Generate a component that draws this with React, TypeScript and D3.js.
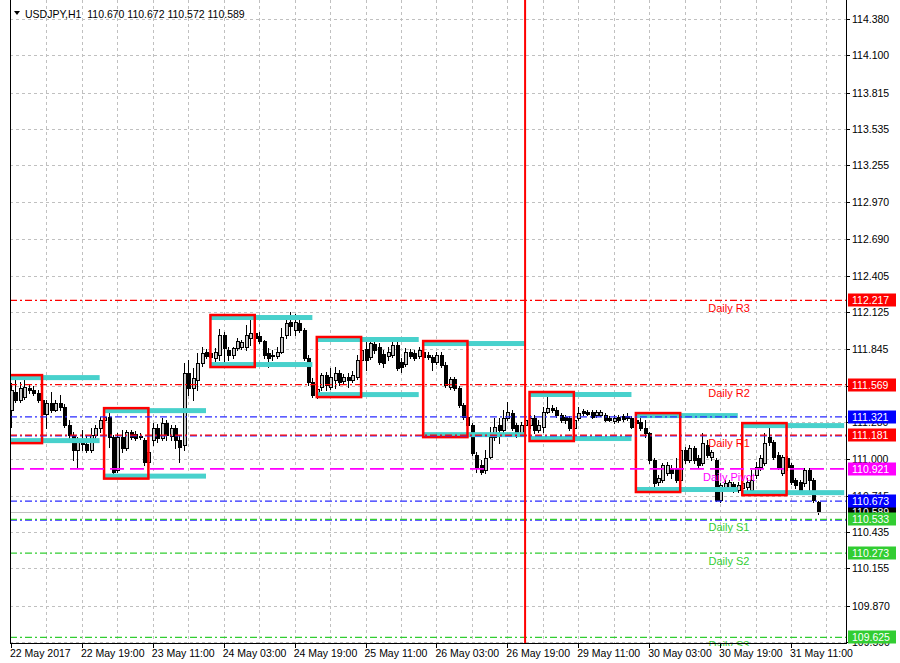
import React from 'react';
import * as d3 from 'd3';

// USDJPY H1, bar 0 = 22 May 2017 03:00
const barOpen = [
  111.373, 111.512, 111.450, 111.473, 111.542, 111.527, 111.504, 111.450, 111.342, 111.427,
  111.373, 111.427, 111.396, 111.258, 111.181, 111.066, 111.142, 111.112, 111.066, 111.181,
  111.235, 111.296, 111.319, 111.165, 110.912, 111.165, 111.081, 111.204, 111.188, 111.173,
  111.142, 110.973, 111.142, 111.235, 111.158, 111.273, 111.173, 111.235, 111.142, 111.104,
  111.658, 111.542, 111.604, 111.735, 111.819, 111.811, 111.773, 111.796, 111.950, 111.835,
  111.796, 111.850, 111.858, 111.858, 111.927, 111.965, 111.942, 111.904, 111.811, 111.796,
  111.788, 111.819, 111.950, 112.050, 111.988, 112.042, 111.988, 111.773, 111.588, 111.488,
  111.550, 111.642, 111.550, 111.604, 111.658, 111.596, 111.627, 111.604, 111.627, 111.758,
  111.842, 111.781, 111.881, 111.858, 111.804, 111.788, 111.796, 111.873, 111.742, 111.727,
  111.819, 111.811, 111.788, 111.819, 111.796, 111.781, 111.742, 111.796, 111.719, 111.550,
  111.612, 111.542, 111.412, 111.319, 111.258, 111.027, 110.950, 110.912, 111.012, 111.165,
  111.258, 111.219, 111.312, 111.350, 111.258, 111.196, 111.258, 111.258, 111.312, 111.219,
  111.242, 111.358, 111.388, 111.373, 111.335, 111.319, 111.312, 111.235, 111.312, 111.365,
  111.358, 111.358, 111.335, 111.335, 111.335, 111.312, 111.288, 111.319, 111.327, 111.327,
  111.312, 111.296, 111.281, 111.235, 111.196, 110.989, 110.819, 110.835, 110.889, 110.927,
  110.927, 110.835, 111.066, 110.989, 111.081, 111.004, 110.966, 111.104, 111.012, 110.989,
  110.681, 110.773, 110.773, 110.804, 110.758, 110.773, 110.781, 110.758, 110.873, 110.935,
  110.966, 111.165, 111.127, 111.027, 110.889, 111.004, 110.950, 110.835, 110.819, 110.812,
  110.912, 110.835, 110.670,
];
const barHigh = [
  111.581, 111.604, 111.588, 111.604, 111.573, 111.558, 111.527, 111.465, 111.450, 111.512,
  111.450, 111.488, 111.419, 111.296, 111.204, 111.165, 111.219, 111.173, 111.235, 111.258,
  111.319, 111.335, 111.350, 111.181, 111.196, 111.219, 111.219, 111.219, 111.212, 111.196,
  111.158, 111.081, 111.273, 111.265, 111.312, 111.296, 111.258, 111.258, 111.181, 111.735,
  111.758, 111.696, 111.811, 111.858, 111.842, 111.835, 111.850, 111.996, 111.973, 111.858,
  111.858, 111.927, 111.911, 112.027, 112.070, 111.988, 111.973, 111.911, 111.850, 111.835,
  111.858, 112.004, 112.081, 112.127, 112.112, 112.073, 112.004, 111.796, 111.619, 111.565,
  111.658, 111.665, 111.696, 111.704, 111.681, 111.650, 111.658, 111.673, 111.796, 111.888,
  111.896, 111.935, 111.911, 111.888, 111.835, 111.858, 111.904, 111.904, 111.773, 111.850,
  111.842, 111.835, 111.858, 111.842, 111.819, 111.796, 111.819, 111.819, 111.742, 111.627,
  111.627, 111.558, 111.427, 111.335, 111.273, 111.050, 110.989, 111.066, 111.242, 111.312,
  111.312, 111.373, 111.435, 111.373, 111.273, 111.281, 111.312, 111.335, 111.335, 111.296,
  111.396, 111.473, 111.412, 111.396, 111.350, 111.335, 111.327, 111.312, 111.396, 111.381,
  111.373, 111.373, 111.373, 111.373, 111.350, 111.327, 111.335, 111.335, 111.342, 111.350,
  111.327, 111.335, 111.312, 111.296, 111.204, 111.004, 110.873, 110.966, 110.973, 110.950,
  111.004, 111.089, 111.089, 111.104, 111.096, 111.027, 111.196, 111.142, 111.066, 111.004,
  110.812, 110.835, 110.835, 110.819, 110.819, 110.835, 110.850, 110.912, 110.973, 111.027,
  111.196, 111.235, 111.142, 111.050, 111.027, 111.019, 110.966, 110.850, 110.835, 110.927,
  110.927, 110.850, 110.672,
];
const barLow = [
  111.242, 111.435, 111.435, 111.458, 111.504, 111.488, 111.435, 111.312, 111.235, 111.358,
  111.365, 111.373, 111.242, 111.142, 110.989, 110.935, 111.066, 111.050, 111.050, 111.142,
  111.204, 111.273, 111.089, 110.858, 110.896, 111.050, 111.066, 111.150, 111.142, 111.150,
  110.950, 110.935, 111.104, 111.127, 111.142, 111.142, 111.142, 111.081, 110.973, 111.066,
  111.488, 111.450, 111.527, 111.712, 111.773, 111.758, 111.750, 111.758, 111.735, 111.758,
  111.773, 111.835, 111.842, 111.835, 111.873, 111.896, 111.888, 111.773, 111.704, 111.758,
  111.773, 111.811, 111.927, 111.950, 111.950, 111.973, 111.758, 111.565, 111.473, 111.465,
  111.527, 111.527, 111.535, 111.542, 111.565, 111.573, 111.550, 111.588, 111.612, 111.742,
  111.681, 111.765, 111.811, 111.727, 111.704, 111.758, 111.781, 111.681, 111.665, 111.712,
  111.773, 111.758, 111.773, 111.758, 111.765, 111.681, 111.727, 111.704, 111.550, 111.535,
  111.527, 111.396, 111.304, 111.242, 111.027, 110.896, 110.881, 110.889, 111.004, 111.142,
  111.119, 111.204, 111.296, 111.219, 111.165, 111.181, 111.235, 111.235, 111.196, 111.204,
  111.204, 111.350, 111.358, 111.319, 111.281, 111.273, 111.219, 111.219, 111.296, 111.335,
  111.335, 111.312, 111.319, 111.327, 111.288, 111.288, 111.273, 111.281, 111.288, 111.296,
  111.235, 111.258, 111.219, 111.165, 110.966, 110.773, 110.796, 110.819, 110.873, 110.850,
  110.819, 110.819, 110.966, 110.973, 110.966, 110.927, 110.950, 111.012, 110.989, 110.673,
  110.666, 110.758, 110.758, 110.742, 110.742, 110.727, 110.758, 110.742, 110.850, 110.912,
  110.950, 111.104, 110.996, 110.920, 110.873, 110.912, 110.804, 110.773, 110.742, 110.789,
  110.758, 110.666, 110.572,
];
const barClose = [
  111.527, 111.450, 111.542, 111.550, 111.527, 111.504, 111.450, 111.342, 111.427, 111.373,
  111.427, 111.396, 111.258, 111.181, 111.066, 111.142, 111.112, 111.066, 111.181, 111.235,
  111.296, 111.319, 111.165, 110.896, 111.165, 111.081, 111.204, 111.165, 111.158, 111.165,
  110.973, 111.050, 111.235, 111.158, 111.273, 111.181, 111.235, 111.142, 111.089, 111.658,
  111.542, 111.619, 111.735, 111.811, 111.788, 111.781, 111.819, 111.950, 111.850, 111.796,
  111.850, 111.904, 111.896, 111.950, 111.965, 111.927, 111.904, 111.796, 111.773, 111.788,
  111.819, 111.935, 112.042, 112.019, 112.050, 111.988, 111.773, 111.588, 111.488, 111.535,
  111.642, 111.565, 111.627, 111.658, 111.588, 111.627, 111.604, 111.642, 111.758, 111.835,
  111.758, 111.888, 111.835, 111.742, 111.735, 111.819, 111.873, 111.696, 111.704, 111.819,
  111.788, 111.773, 111.835, 111.781, 111.781, 111.742, 111.796, 111.719, 111.565, 111.612,
  111.542, 111.412, 111.319, 111.258, 111.042, 110.935, 110.896, 111.004, 111.165, 111.242,
  111.219, 111.312, 111.358, 111.235, 111.181, 111.258, 111.296, 111.312, 111.219, 111.258,
  111.358, 111.388, 111.373, 111.335, 111.296, 111.296, 111.235, 111.296, 111.350, 111.350,
  111.342, 111.319, 111.358, 111.358, 111.296, 111.296, 111.312, 111.296, 111.304, 111.312,
  111.242, 111.273, 111.235, 111.196, 110.989, 110.812, 110.850, 110.950, 110.950, 110.889,
  110.835, 111.066, 110.989, 111.081, 110.989, 110.950, 111.119, 111.027, 111.050, 110.681,
  110.796, 110.812, 110.819, 110.758, 110.796, 110.812, 110.819, 110.835, 110.935, 111.004,
  111.119, 111.127, 111.012, 110.935, 111.012, 110.935, 110.819, 110.796, 110.758, 110.912,
  110.835, 110.681, 110.589,
];

// time axis labels, one every 16 bars
const timeLabels = [
  '22 May 2017', '22 May 19:00', '23 May 11:00', '24 May 03:00', '24 May 19:00', '25 May 11:00',
  '26 May 03:00', '26 May 19:00', '29 May 11:00', '30 May 03:00', '30 May 19:00', '31 May 11:00',
];
const priceTicks = [
  114.380, 114.100, 113.815, 113.535, 113.255, 112.970, 112.690, 112.405, 112.125,
  111.845, 111.560, 111.280, 111.000, 110.715, 110.435, 110.155, 109.870, 109.590,
];

// daily pivot levels
const pivotNames = ['Daily R3', 'Daily R2', 'Daily R1', 'Daily Pivot', 'Daily S1', 'Daily S2', 'Daily S3'];
const pivotValues = [112.217, 111.569, 111.181, 110.921, 110.533, 110.273, 109.625];
const blueLevels = [111.321, 111.175, 110.673, 110.527];
const blueLabels = [111.321, 110.673];
const bidPrice = 110.589;

// session boxes (first bar of the day, high, low)
const sessionStart = [-3, 21, 45, 69, 93, 117, 141, 165];
const sessionHigh = [111.642, 111.388, 112.104, 111.935, 111.904, 111.512, 111.350, 111.273];
const sessionLow = [111.119, 110.846, 111.704, 111.473, 111.165, 111.135, 110.743, 110.719];

const markerBar = 116;

const RED = '#ff0000';
const MAGENTA = '#ff00ff';
const GREEN = '#32cd32';
const BLUE = '#0000ff';
const CYAN = '#48d1cc';
const DASHDOT = '7,3,2,3';

const pivotColor = (name: string) =>
  name.includes('R') ? RED : name.includes('Pivot') ? MAGENTA : GREEN;

export default function App() {
  const left = 10, right = 846, top = 0, bottom = 643;
  const x = d3.scaleLinear().domain([0, 176]).range([11, 791]);
  const y = d3.scaleLinear().domain([109.582, 114.511]).range([643, 2]);
  const fmt = d3.format('.3f');
  const last = barClose.length - 1;

  const vGrid = d3.range(8, 190, 8).filter(i => x(i) < right);

  // bid label first so the level labels sit on top of it
  const axisLabels = [
    { v: bidPrice, color: '#000000' },
    ...pivotValues.map((v, k) => ({ v, color: pivotColor(pivotNames[k]) })),
    ...blueLabels.map(v => ({ v, color: BLUE })),
  ];

  return (
    <svg width={900} height={663} style={{ position: 'absolute', left: 0, top: 0, background: '#fff' }}
      fontFamily="'Liberation Sans', Arial, sans-serif">
      <defs>
        <clipPath id="plot"><rect x={left} y={top} width={right - left} height={bottom - top} /></clipPath>
        <clipPath id="plotText"><rect x={left} y={top} width={right - left} height={bottom - top + 3} /></clipPath>
      </defs>
      <rect width={900} height={663} fill="#fff" />

      {/* grid */}
      <g stroke="#c0c0c0" strokeDasharray="3,3" shapeRendering="crispEdges">
        {priceTicks.map(p => (
          <line key={p} x1={left} x2={right} y1={Math.round(y(p)) + 0.5} y2={Math.round(y(p)) + 0.5} />
        ))}
        {vGrid.map(i => (
          <line key={i} x1={Math.round(x(i)) + 0.5} x2={Math.round(x(i)) + 0.5} y1={top} y2={bottom} />
        ))}
      </g>

      <g clipPath="url(#plot)">
        {/* candles */}
        <g shapeRendering="crispEdges">
          {barClose.map((c, i) => {
            const o = barOpen[i];
            const cx = Math.round(x(i));
            const yt = Math.round(y(Math.max(o, c)));
            const yb = Math.round(y(Math.min(o, c)));
            const bull = c >= o;
            return (
              <g key={i}>
                <line x1={cx + 0.5} x2={cx + 0.5} y1={Math.round(y(barHigh[i]))} y2={Math.round(y(barLow[i])) + 1} stroke="#000" />
                <rect x={cx - 1} y={yt + 0.5} width={3} height={Math.max(yb - yt, 1)}
                  fill={bull ? '#c8c8c8' : '#000'} stroke="#000" />
              </g>
            );
          })}
        </g>

        {/* session ranges */}
        {sessionStart.map((s, k) => {
          const x0 = x(s), x1 = x(s + 10), x2 = x(s + 23);
          const yh = y(sessionHigh[k]), yl = y(sessionLow[k]);
          return (
            <g key={s}>
              <rect x={x0} y={yh} width={x2 - x0} height={5} fill={CYAN} />
              <rect x={x0} y={yl - 5} width={x2 - x0} height={5} fill={CYAN} />
              <rect x={x0} y={yh} width={x1 - x0} height={yl - yh} fill="none" stroke={RED} strokeWidth={2.5} />
            </g>
          );
        })}

        {/* bid line */}
        <line x1={left} x2={right} y1={Math.round(y(bidPrice)) + 0.5} y2={Math.round(y(bidPrice)) + 0.5} stroke="#c0c0c0" />

        {/* level lines */}
        {blueLevels.map(v => (
          <line key={v} x1={left} x2={right} y1={y(v)} y2={y(v)} stroke="#2a2aff" strokeWidth={1.4} strokeDasharray={DASHDOT} />
        ))}
        {pivotValues.map((v, k) => (
          <line key={v} x1={left} x2={right} y1={y(v)} y2={y(v)} stroke={pivotColor(pivotNames[k])}
            strokeWidth={pivotNames[k] === 'Daily Pivot' ? 1.6 : 1.2}
            strokeDasharray={pivotNames[k] === 'Daily Pivot' ? '14,6' : DASHDOT} />
        ))}

        {/* vertical marker */}
        <line x1={x(markerBar)} x2={x(markerBar)} y1={top} y2={bottom} stroke={RED} strokeWidth={2} />
      </g>

      <g clipPath="url(#plotText)">
        {pivotValues.map((v, k) => (
          <text key={pivotNames[k]} x={729} y={y(v) + 12} fontSize={11} textAnchor="middle" fill={pivotColor(pivotNames[k])}>
            {pivotNames[k]}
          </text>
        ))}
      </g>

      {/* frame */}
      <g stroke="#000" shapeRendering="crispEdges">
        <line x1={left + 0.5} x2={left + 0.5} y1={top} y2={bottom} />
        <line x1={right + 0.5} x2={right + 0.5} y1={top} y2={bottom + 1} />
        <line x1={left} x2={right + 1} y1={bottom + 0.5} y2={bottom + 0.5} />
      </g>

      {/* price axis */}
      <g fontSize={10.5} fill="#000">
        {priceTicks.map(p => (
          <g key={p}>
            <line x1={right} x2={right + 4} y1={Math.round(y(p)) + 0.5} y2={Math.round(y(p)) + 0.5} stroke="#000" />
            <text x={852} y={y(p) + 4}>{fmt(p)}</text>
          </g>
        ))}
      </g>
      {axisLabels.map(l => (
        <g key={l.v}>
          <rect x={848} y={Math.round(y(l.v)) - 6.5} width={48} height={13} fill={l.color} />
          <text x={852} y={y(l.v) + 4} fontSize={10.5} fill="#fff">{fmt(l.v)}</text>
        </g>
      ))}

      {/* time axis */}
      <g fontSize={10.5} fill="#000">
        {timeLabels.map((t, k) => (
          <g key={t}>
            <line x1={Math.round(x(k * 16)) + 0.5} x2={Math.round(x(k * 16)) + 0.5} y1={bottom} y2={bottom + 5} stroke="#000" />
            <text x={x(k * 16) - 1} y={657}>{t}</text>
          </g>
        ))}
      </g>

      {/* header */}
      <path d="M14,11 L20,11 L17,15 Z" fill="#000" />
      <text x={25} y={18} fontSize={10.5} fill="#000" style={{ whiteSpace: 'pre' }}>
        {`USDJPY,H1  ${fmt(barOpen[last])} ${fmt(barHigh[last])} ${fmt(barLow[last])} ${fmt(barClose[last])}`}
      </text>
    </svg>
  );
}
